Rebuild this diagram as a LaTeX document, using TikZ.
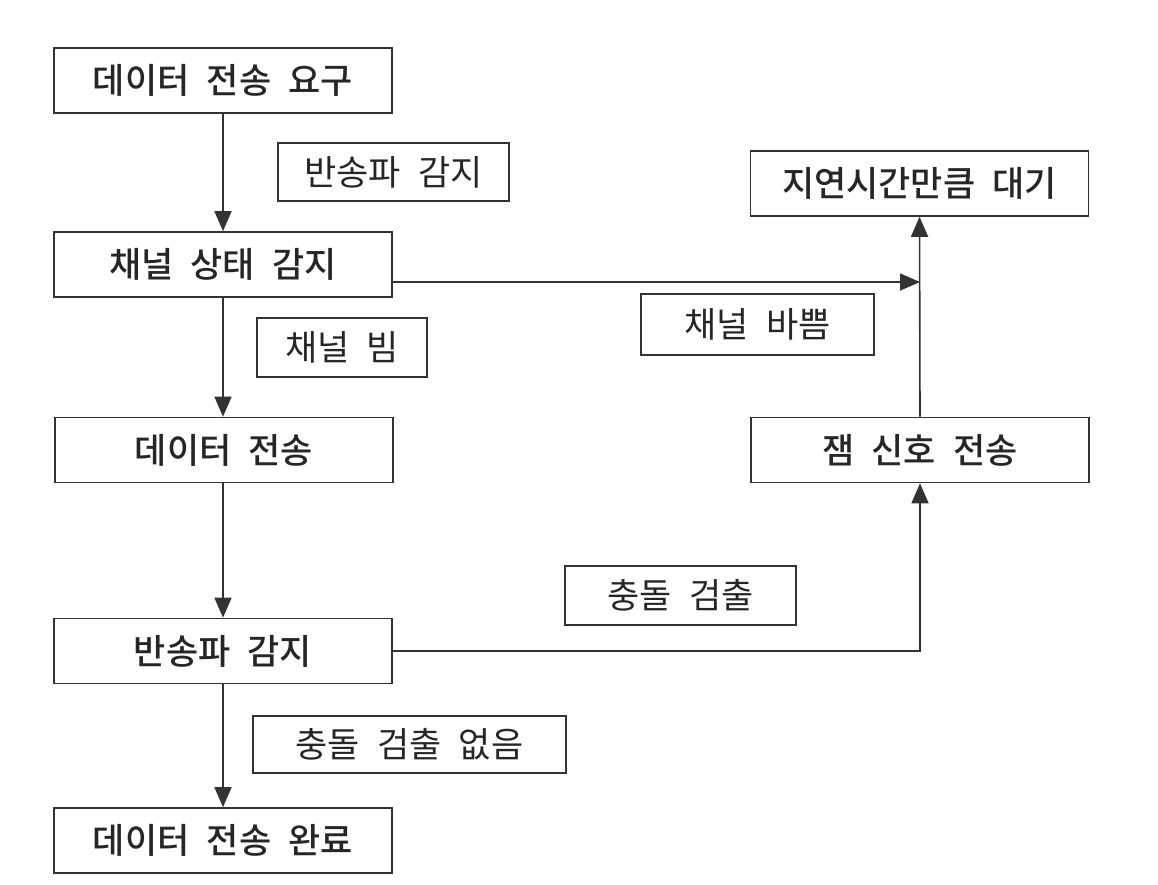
\documentclass[tikz,border=0pt]{standalone}
\usepackage{fontspec}
\setmainfont{Noto Sans CJK KR}[WordSpace=2.2, BoldFont={Noto Sans CJK KR Medium}]
\usetikzlibrary{arrows.meta}
\definecolor{ink}{HTML}{333333}
\begin{document}
\begin{tikzpicture}[x=1pt,y=-1pt,
  every node/.style={text=black!85},
  mainbox/.style={draw=ink, line width=1.6pt, minimum width=338pt, minimum height=65pt, inner sep=0pt, font=\fontsize{35}{40}\selectfont\bfseries},
  lbl/.style={draw=ink, line width=1.4pt, inner sep=0pt, font=\fontsize{35}{40}\selectfont},
  arr/.style={draw=ink, line width=1.6pt, -{Triangle[length=20pt,width=17pt]}},
  ln/.style={draw=ink, line width=1.6pt}]
\useasboundingbox (0,0) rectangle (1158,884);
\node[mainbox] (b1) at (223,80.5) {데이터 전송 요구};
\node[mainbox] (b2) at (223,264.5) {채널 상태 감지};
\node[mainbox] (b3) at (224,450) {데이터 전송};
\node[mainbox] (b4) at (223,651) {반송파 감지};
\node[mainbox] (b5) at (223,840.5) {데이터 전송 완료};
\node[mainbox] (w) at (919.5,183.5) {지연시간만큼 대기};
\node[mainbox] (j) at (920,450) {잼 신호 전송};
\node[lbl, minimum width=231pt, minimum height=58pt] (l1) at (393.5,172) {반송파 감지};
\node[lbl, minimum width=170pt, minimum height=59pt] (l2) at (342,347.5) {채널 빔};
\node[lbl, minimum width=233pt, minimum height=61pt] (l3) at (757.5,324.5) {채널 바쁨};
\node[lbl, minimum width=231pt, minimum height=59pt] (l4) at (680.5,595.5) {충돌 검출};
\node[lbl, minimum width=313pt, minimum height=57pt] (l5) at (409.5,744.5) {충돌 검출 없음};
\coordinate (m) at (920,282);
\draw[arr] (b1.south) -- (b2.north);
\draw[arr] (b2.south) -- (b3.north -| b2.south);
\draw[arr] (b3.south -| b2.south) -- (b4.north);
\draw[arr] (b4.south) -- (b5.north);
\draw[arr] (b2.east |- m) -- (m);
\draw[arr] (j.north) -- (w.south);
\draw[arr] (b4.east) -| (j.south);
\end{tikzpicture}
\end{document}
